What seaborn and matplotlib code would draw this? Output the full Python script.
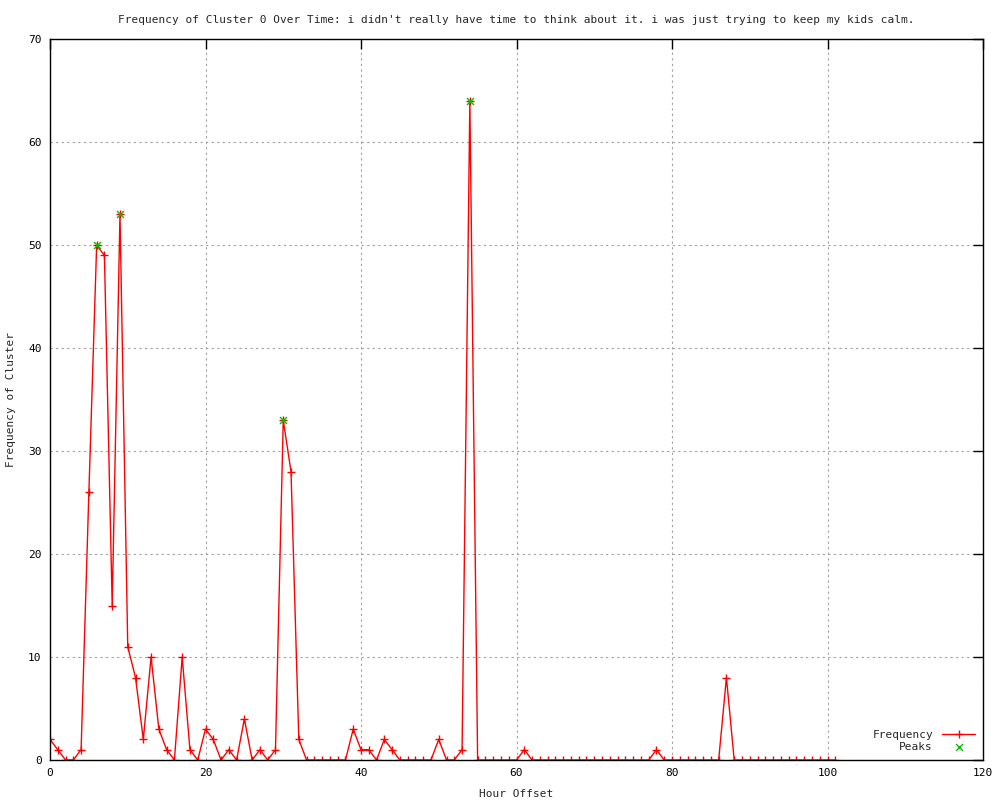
import numpy as np
import pandas as pd
import matplotlib
matplotlib.use('Agg')
import matplotlib.pyplot as plt
import seaborn as sns

hours = list(range(0, 102))
frequency = [2, 1, 0, 0, 1, 26, 50, 49, 15, 53,
             11, 8, 2, 10, 3, 1, 0, 10, 1, 0,
             3, 2, 0, 1, 0, 4, 0, 1, 0, 1,
             33, 28, 2, 0, 0, 0, 0, 0, 0, 3,
             1, 1, 0, 2, 1, 0, 0, 0, 0, 0,
             2, 0, 0, 1, 64, 0, 0, 0, 0, 0,
             0, 1, 0, 0, 0, 0, 0, 0, 0, 0,
             0, 0, 0, 0, 0, 0, 0, 0, 1, 0,
             0, 0, 0, 0, 0, 0, 0, 8, 0, 0,
             0, 0, 0, 0, 0, 0, 0, 0, 0, 0,
             0, 0]
peak_hours = [6, 9, 30, 54]
peak_values = [50, 53, 33, 64]

title = ("Frequency of Cluster 0 Over Time: i didn't really have time to think about it. "
         "i was just trying to keep my kids calm.")

sns.set_style('white')
plt.rcParams['font.family'] = ['DejaVu Sans Mono']
plt.rcParams['font.size'] = 8

df = pd.DataFrame({'hour': hours, 'freq': frequency})
peaks = pd.DataFrame({'hour': peak_hours, 'freq': peak_values})

fig = plt.figure(figsize=(10, 8), dpi=100)
ax = fig.add_axes([0.05, 0.05, 0.933, 0.901])

sns.lineplot(data=df, x='hour', y='freq', ax=ax, color='red', linewidth=1,
             marker='+', markersize=6, markeredgecolor='red', markeredgewidth=1,
             label='Frequency')
sns.scatterplot(data=peaks, x='hour', y='freq', ax=ax, color='#00c000',
                marker='x', s=25, linewidth=1, label='Peaks', zorder=3)

ax.set_xlim(0, 120)
ax.set_ylim(0, 70)
ax.set_xticks(range(0, 121, 20))
ax.set_yticks(range(0, 71, 10))
ax.grid(True, color='#a0a0a0', linestyle=(0, (2, 3)), linewidth=0.8)
ax.tick_params(direction='in', length=7, width=1, top=True, right=True,
               labelsize=8, pad=6, colors='black')
for s in ax.spines.values():
    s.set_color('black')
    s.set_linewidth(1)

ax.set_title(title, fontsize=8, pad=12)
ax.set_xlabel('Hour Offset', fontsize=8, labelpad=8)
ax.set_ylabel('Frequency of Cluster', fontsize=8, labelpad=9)

ax.legend(loc='lower right', frameon=False, markerfirst=False, fontsize=8,
          handlelength=3, borderaxespad=0.3, labelspacing=0.2)

plt.savefig('out.png', dpi=100)
